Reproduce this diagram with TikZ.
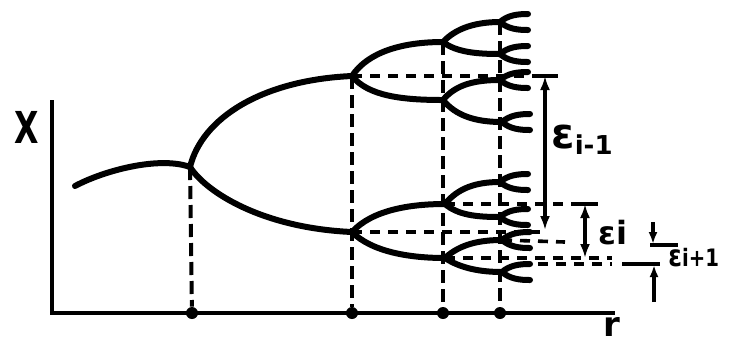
\documentclass[tikz,border=0pt]{standalone}
\usepackage{fontspec}
\setmainfont{DejaVu Sans}
\usetikzlibrary{arrows.meta}
\begin{document}
\begin{tikzpicture}[x=0.5pt,y=-0.5pt,
  branch/.style={line width=3pt, line cap=round},
  axisline/.style={line width=2pt},
  guide/.style={line width=2pt, dash pattern=on 6.5pt off 3pt},
  hguide/.style={line width=1.8pt, dash pattern=on 5pt off 4pt},
  dimarrow/.style={line width=1.8pt, {Latex[length=7pt,width=5pt]}-{Latex[length=7pt,width=5pt]}},
  onearrow/.style={line width=1.8pt, -{Latex[length=6pt,width=4.5pt]}},
  barline/.style={line width=2pt},
  dot/.style={circle, fill, inner sep=0pt, minimum size=6pt},
  lab/.style={inner sep=0pt, font=\bfseries}]
\useasboundingbox (0,0) rectangle (731,345);

% axes
\coordinate (o) at (52,313);
\coordinate (ytop) at (52,100);
\coordinate (xend) at (615,313);
\draw[axisline] (ytop) -- (52,315) (50,313) -- (xend);
\node[lab, font=\bfseries\fontsize{22}{22}\selectfont] (xl) at (27,127) {\scalebox{0.72}[1]{X}};
\node[lab, font=\bfseries\fontsize{17}{17}\selectfont] (rl) at (612,327) {r};

% branch points
\coordinate (A0) at (75,186);
\coordinate (B1) at (190,167);
\coordinate (U) at (352,76);
\coordinate (L) at (352,232);
\coordinate (UU) at (443,42);
\coordinate (UL) at (443,100);
\coordinate (LU) at (445,204);
\coordinate (LL) at (445,258);
\coordinate (a1) at (500,22);
\coordinate (a2) at (500,54);
\coordinate (a3) at (500,80);
\coordinate (a4) at (502,122);
\coordinate (a5) at (500,182);
\coordinate (a6) at (500,217);
\coordinate (a7) at (502,240);
\coordinate (a8) at (502,272);

% axis dots
\node[dot] (d1) at (192,313) {};
\node[dot] (d2) at (352,313) {};
\node[dot] (d3) at (443,313) {};
\node[dot] (d4) at (500,313) {};

% vertical dashed guides
\draw[guide] (B1) -- (d1);
\draw[guide] (U) -- (d2);
\draw[guide] (UU) -- (d3);
\draw[guide] (a1) -- (d4);

% horizontal dashed guides
\coordinate (e1t) at (545,76);
\coordinate (e1b) at (545,230);
\draw[hguide] (U) -- (533,76);
\draw[hguide] (L) -- (540,232);
\coordinate (e2t) at (585,204);
\coordinate (e2b) at (585,258);
\draw[hguide] (LU) -- (573,204);
\draw[hguide] (LL) -- (612,258);
\draw[hguide] (a7) -- (565,242);
\coordinate (g3) at (520,264);
\coordinate (g3e) at (612,264);
\draw[hguide] (g3) -- (g3e);

% bifurcation tree
\draw[branch] (A0) .. controls (105,170) and (160,156) .. (B1);
\draw[branch] (B1) .. controls (202,118) and (262,80) .. (U);
\draw[branch] (B1) .. controls (206,192) and (262,228) .. (L);
\draw[branch] (U) .. controls (368,52) and (402,42) .. (UU);
\draw[branch] (U) .. controls (368,96) and (402,100) .. (UL);
\draw[branch] (L) .. controls (372,210) and (410,204) .. (LU);
\draw[branch] (L) .. controls (372,252) and (410,258) .. (LL);
\draw[branch] (UU) .. controls (456,28) and (476,22) .. (a1);
\draw[branch] (UU) .. controls (456,52) and (476,54) .. (a2);
\draw[branch] (UL) .. controls (456,84) and (476,80) .. (a3);
\draw[branch] (UL) .. controls (456,116) and (476,122) .. (a4);
\draw[branch] (LU) .. controls (458,188) and (476,182) .. (a5);
\draw[branch] (LU) .. controls (458,215) and (476,217) .. (a6);
\draw[branch] (LL) .. controls (460,244) and (480,240) .. (a7);
\draw[branch] (LL) .. controls (460,268) and (480,272) .. (a8);
\foreach \n in {a1,a2,a3,a4,a5,a6,a7,a8}{
  \draw[branch] (\n) .. controls +(8,-7) and +(-10,0) .. +(28,-8);
  \draw[branch] (\n) .. controls +(8,7) and +(-10,0) .. +(28,8);
}

% epsilon_{i-1}
\draw[barline] (533,76) -- (558,76);
\draw[dimarrow] (e1t) -- (e1b);
\node[lab, anchor=west, font=\bfseries\fontsize{21}{21}\selectfont] (t1) at (551,140) {ε\textsubscript{\fontsize{13}{13}\selectfont i-1}};

% epsilon_i
\draw[barline] (573,204) -- (598,204);
\draw[dimarrow] (e2t) -- (e2b);
\node[lab, anchor=west, font=\bfseries\fontsize{16}{16}\selectfont] (t2) at (598,233) {εi};

% epsilon_{i+1}
\coordinate (e3a) at (653,222);
\coordinate (e3b) at (653,244);
\coordinate (e3c) at (654,302);
\coordinate (e3d) at (654,265);
\draw[onearrow] (e3a) -- (e3b);
\draw[barline] (650,245) -- (678,245);
\draw[barline] (622,264) -- (660,264);
\draw[onearrow] (e3c) -- (e3d);
\node[lab, anchor=west, font=\bfseries\fontsize{15}{15}\selectfont] (t3) at (668,258) {\scalebox{0.82}[1]{ε{\fontsize{12}{12}\selectfont i+1}}};
\end{tikzpicture}
\end{document}
